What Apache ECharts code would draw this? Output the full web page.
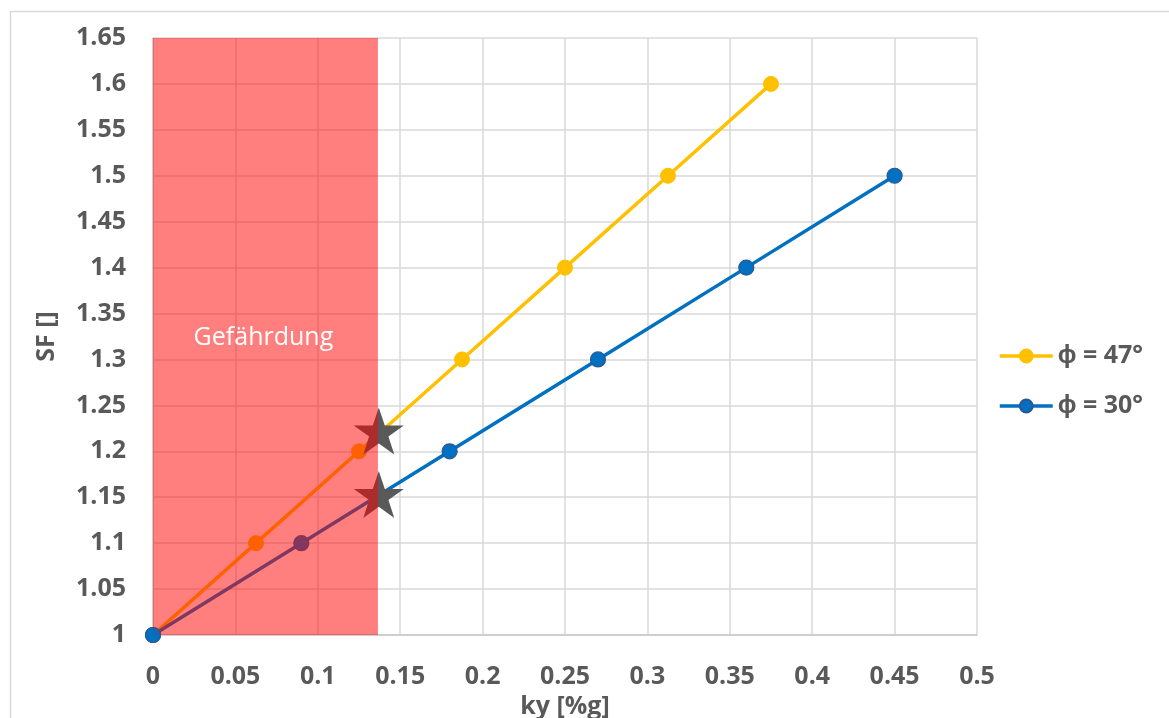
<!DOCTYPE html>
<html>
<head>
<meta charset="utf-8">
<script src="https://cdn.jsdelivr.net/npm/echarts@6/dist/echarts.min.js"></script>
<style>
html,body{margin:0;padding:0;background:#fff;}
#chart{width:1169px;height:718px;}
</style>
</head>
<body>
<div id="chart"></div>
<script>
// ---- data ----
const seriesNames = ['ϕ = 47°', 'ϕ = 30°'];
const phi47X = [0, 0.0625, 0.125, 0.1875, 0.25, 0.3125, 0.375];
const phi47Y = [1, 1.1, 1.2, 1.3, 1.4, 1.5, 1.6];
const phi30X = [0, 0.09, 0.18, 0.27, 0.36, 0.45];
const phi30Y = [1, 1.1, 1.2, 1.3, 1.4, 1.5];
const starX = [0.137, 0.137];
const starY = [1.222, 1.153];
const dangerRange = [0, 0.1365];
const dangerLabel = 'Gefährdung';
const dangerLabelPos = [0.067, 1.323];
const xTicks = {min: 0, max: 0.5, interval: 0.05};
const yTicks = {min: 1, max: 1.65, interval: 0.05};
const xTitle = 'ky [%g]';
const yTitle = 'SF []';

const zip = (xs, ys) => xs.map((x, i) => [x, ys[i]]);
const grey = '#595959';
const font = '"Open Sans", sans-serif';
const starPath = 'path://M50,0 L61.8,35.1 L98.9,35.1 L68.9,56.7 L80.3,91.9 L50,70 L19.7,91.9 L31.1,56.7 L1.1,35.1 L38.2,35.1 Z';

const chart = echarts.init(document.getElementById('chart'), null, {renderer: 'canvas'});
chart.setOption({
  animation: false,
  backgroundColor: '#ffffff',
  graphic: [{
    type: 'rect', left: 8, top: 9, z: -10,
    shape: {x: 0, y: 0, width: 1200, height: 800},
    style: {fill: 'none', stroke: '#d9d9d9', lineWidth: 1.5}
  }],
  grid: {left: 153, top: 38, width: 824, height: 597, containLabel: false, outerBoundsMode: 'none'},
  legend: {
    data: seriesNames,
    orient: 'vertical',
    left: 993, top: 335,
    itemWidth: 53, itemHeight: 16, itemGap: 18,
    lineStyle: {width: 3.5},
    textStyle: {color: grey, fontFamily: font, fontWeight: 'bold', fontSize: 25, lineHeight: 32}
  },
  xAxis: {
    type: 'value', min: xTicks.min, max: xTicks.max, interval: xTicks.interval,
    name: xTitle, nameLocation: 'middle', nameGap: 56,
    nameTextStyle: {color: grey, fontFamily: font, fontWeight: 'bold', fontSize: 25},
    axisLine: {show: true, lineStyle: {color: '#c8c8c8', width: 1.5}},
    axisTick: {show: false},
    axisLabel: {color: grey, fontFamily: font, fontWeight: 'bold', fontSize: 25, margin: 29},
    splitLine: {show: true, lineStyle: {color: '#d9d9d9', width: 1.5}}
  },
  yAxis: {
    type: 'value', min: yTicks.min, max: yTicks.max, interval: yTicks.interval,
    name: yTitle, nameLocation: 'middle', nameGap: 94, nameRotate: 90,
    nameTextStyle: {color: grey, fontFamily: font, fontWeight: 'bold', fontSize: 25},
    axisLine: {show: true, lineStyle: {color: '#c8c8c8', width: 1.5}},
    axisTick: {show: false},
    axisLabel: {color: grey, fontFamily: font, fontWeight: 'bold', fontSize: 25, margin: 27},
    splitLine: {show: true, lineStyle: {color: '#d9d9d9', width: 1.5}}
  },
  series: [
    {
      name: seriesNames[0], type: 'line', z: 2,
      data: zip(phi47X, phi47Y),
      symbol: 'circle', symbolSize: 15,
      lineStyle: {color: '#FFC000', width: 3.5},
      itemStyle: {color: '#FFC000', borderColor: '#FFC000', borderWidth: 1}
    },
    {
      name: seriesNames[1], type: 'line', z: 2,
      data: zip(phi30X, phi30Y),
      symbol: 'circle', symbolSize: 15,
      lineStyle: {color: '#0070C0', width: 3.5},
      itemStyle: {color: '#0070C0', borderColor: '#2F5597', borderWidth: 1.2}
    },
    {
      name: 'stars', type: 'scatter', z: 3,
      data: zip(starX, starY),
      symbol: starPath, symbolSize: [50, 47],
      itemStyle: {color: '#595959', opacity: 1}
    },
    {
      name: 'danger', type: 'custom', z: 4,
      data: [dangerRange],
      encode: {x: [0, 1]},
      renderItem: function (params, api) {
        const p0 = api.coord([api.value(0), yTicks.max]);
        const p1 = api.coord([api.value(1), yTicks.min]);
        const lp = api.coord(dangerLabelPos);
        return {
          type: 'group',
          children: [
            {type: 'rect', shape: {x: p0[0], y: p0[1], width: p1[0] - p0[0], height: p1[1] - p0[1]},
             style: {fill: 'rgba(255,0,0,0.5)'}},
            {type: 'text', x: lp[0], y: lp[1],
             style: {text: dangerLabel, fill: '#ffffff', font: '25px "Open Sans", sans-serif',
                     align: 'center', verticalAlign: 'middle'}}
          ]
        };
      }
    },
    {
      name: 'origin', type: 'scatter', z: 5,
      data: [[phi30X[0], phi30Y[0]]],
      symbol: 'circle', symbolSize: 15,
      itemStyle: {color: '#0070C0', borderColor: '#2F5597', borderWidth: 1.2}
    }
  ]
});
</script>
</body>
</html>
